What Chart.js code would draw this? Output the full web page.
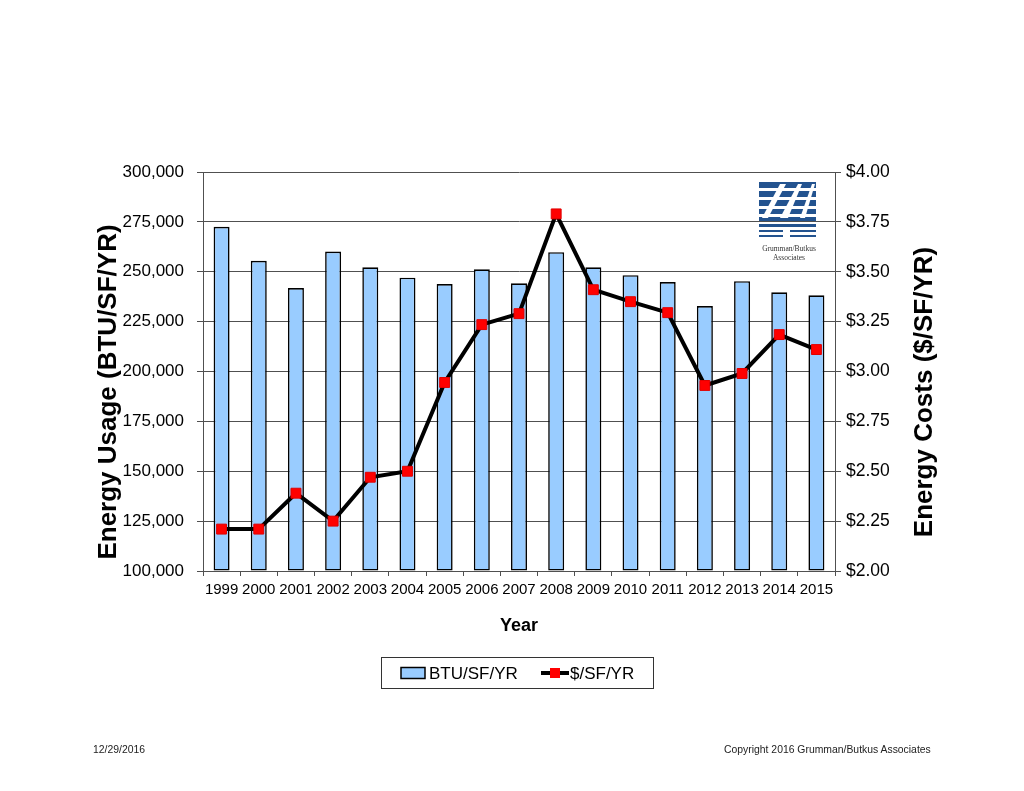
<!DOCTYPE html>
<html>
<head>
<meta charset="utf-8">
<script src="https://cdn.jsdelivr.net/npm/chart.js@4/dist/chart.umd.min.js"></script>
<style>
  html, body { margin: 0; padding: 0; background: #fff; }
  #wrap { position: relative; width: 1024px; height: 791px; }
  canvas { position: absolute; left: 0; top: 0; }
  .foot { position: absolute; font-family: 'Liberation Sans', Arial, sans-serif; font-size: 10.4px; color: #222; }
  #logo { position: absolute; left: 758px; top: 182px; width: 62px; }
  #logo .t { font-family: 'Liberation Serif', 'DejaVu Serif', serif; font-size: 7.5px; color: #333; text-align: center; line-height: 9px; }
</style>
</head>
<body>
<div id="wrap">
  <canvas id="c" width="1024" height="791"></canvas>
  <div id="logo">
    <svg width="60" height="58" viewBox="0 0 60 58">
      <rect x="1" y="0" width="57" height="6" fill="#23538f"/>
      <rect x="1" y="9" width="57" height="6" fill="#23538f"/>
      <rect x="1" y="18" width="57" height="6" fill="#23538f"/>
      <rect x="1" y="27" width="57" height="5" fill="#23538f"/>
      <rect x="1" y="35" width="57" height="4" fill="#23538f"/>
      <rect x="1" y="42" width="57" height="3" fill="#23538f"/>
      <rect x="1" y="48" width="24" height="2" fill="#23538f"/>
      <rect x="32" y="48" width="26" height="2" fill="#23538f"/>
      <rect x="1" y="53" width="24" height="2" fill="#23538f"/>
      <rect x="32" y="53" width="26" height="2" fill="#23538f"/>
      <polygon points="4,36 22,2 28,2 10,36" fill="#fff"/>
      <polygon points="22,36 40,2 44,2 30,36" fill="#fff"/>
      <polygon points="42,36 54,2 57,2 47,36" fill="#fff"/>
    </svg>
    <div class="t">Grumman/Butkus<br>Associates</div>
  </div>
  <div class="foot" style="left:93px; top:744px;">12/29/2016</div>
  <div class="foot" style="left:724px; top:744px;">Copyright 2016 Grumman/Butkus Associates</div>
</div>
<script>
// values
const years = ['1999', '2000', '2001', '2002', '2003', '2004', '2005', '2006', '2007',
  '2008', '2009', '2010', '2011', '2012', '2013', '2014', '2015']
const btuPerSf = [272500, 255500, 241800, 260100, 252200, 247000, 243800, 251200, 244200,
  259800, 252200, 248300, 244800, 232800, 245300, 239700, 238200]
const costPerSf = [2.21, 2.21, 2.39, 2.25, 2.47, 2.50, 2.945, 3.235, 3.29,
  3.79, 3.41, 3.35, 3.295, 2.93, 2.99, 3.185, 3.11]
const leftTicks = [100000, 300000, 25000]   // min, max, step
const rightTicks = [2, 4, 0.25]
const leftTitle = 'Energy Usage (BTU/SF/YR)'
const rightTitle = 'Energy Costs ($/SF/YR)'

const FONT = "'Liberation Sans', Arial, sans-serif"
const BAR_FILL = '#99ccff'
const GRID = '#505050'

// both axis titles read bottom-to-top, and the legend sits in a framed box
const extras = {
  id: 'extras',
  afterDraw(chart) {
    const c = chart.ctx
    c.save()
    c.fillStyle = '#000'
    c.font = 'bold 26px ' + FONT
    c.textAlign = 'center'
    c.textBaseline = 'middle'
    for (const [x, t] of [[109, leftTitle], [925, rightTitle]]) {
      c.save()
      c.translate(x, 392)
      c.rotate(-Math.PI / 2)
      c.fillText(t, 0, 0)
      c.restore()
    }

    c.strokeStyle = '#333'
    c.lineWidth = 1
    c.strokeRect(381.5, 657.5, 272, 31)
    c.fillStyle = BAR_FILL
    c.fillRect(401, 667.5, 24, 11)
    c.strokeStyle = '#000'
    c.lineWidth = 1.5
    c.strokeRect(401, 667.5, 24, 11)
    c.lineWidth = 4
    c.beginPath(); c.moveTo(541, 673); c.lineTo(569, 673); c.stroke()
    c.fillStyle = '#ff0000'
    c.fillRect(550, 668, 10, 10)
    c.fillStyle = '#000'
    c.font = '17px ' + FONT
    c.textAlign = 'left'
    c.fillText(chart.data.datasets[0].label, 429, 674)
    c.fillText(chart.data.datasets[1].label, 570, 674)
    c.restore()
  }
}

new Chart(document.getElementById('c'), {
  type: 'bar',
  data: {
    labels: years,
    datasets: [
      {
        type: 'bar',
        label: 'BTU/SF/YR',
        data: btuPerSf,
        yAxisID: 'y',
        backgroundColor: BAR_FILL,
        borderColor: '#000',
        borderWidth: 1.6,
        borderSkipped: false,
        barPercentage: 0.43,
        categoryPercentage: 1,
        base: leftTicks[0],
        order: 2
      },
      {
        type: 'line',
        label: '$/SF/YR',
        data: costPerSf,
        yAxisID: 'y1',
        borderColor: '#000',
        borderWidth: 4,
        tension: 0,
        pointStyle: 'rect',
        pointRadius: 7,
        pointBackgroundColor: '#ff0000',
        pointBorderColor: '#e00000',
        pointBorderWidth: 1,
        order: 1
      }
    ]
  },
  options: {
    responsive: false,
    animation: false,
    devicePixelRatio: 1,
    layout: { padding: { left: 100, right: 83, top: 172, bottom: 154 } },
    plugins: { legend: { display: false }, tooltip: { enabled: false } },
    scales: {
      x: {
        offset: true,
        grid: { display: true, drawOnChartArea: false, drawTicks: true, tickLength: 5, color: GRID, offset: true },
        border: { display: true, color: GRID, width: 1 },
        ticks: { color: '#000', font: { family: FONT, size: 15 }, padding: 5, maxRotation: 0, autoSkip: false },
        title: { display: true, text: 'Year', color: '#000', font: { family: FONT, size: 18, weight: 'bold' }, padding: 0 },
        afterFit(s) { s.height = 66 }
      },
      y: {
        position: 'left',
        min: leftTicks[0], max: leftTicks[1],
        grid: { color: GRID, lineWidth: 1, tickLength: 6 },
        border: { display: true, color: GRID, width: 1 },
        ticks: {
          stepSize: leftTicks[2], color: '#000', padding: 13,
          font: { family: FONT, size: 17 },
          callback: v => v.toLocaleString('en-US')
        },
        title: { display: false },
        afterFit(s) { s.width = 103 }
      },
      y1: {
        position: 'right',
        min: rightTicks[0], max: rightTicks[1],
        grid: { drawOnChartArea: false, color: GRID, tickLength: 6 },
        border: { display: true, color: GRID, width: 1 },
        ticks: {
          stepSize: rightTicks[2], color: '#000', padding: 5,
          font: { family: FONT, size: 17.5 },
          callback: v => '$' + Number(v).toFixed(2)
        },
        title: { display: false },
        afterFit(s) { s.width = 106 }
      }
    }
  },
  plugins: [extras]
})
</script>
</body>
</html>
